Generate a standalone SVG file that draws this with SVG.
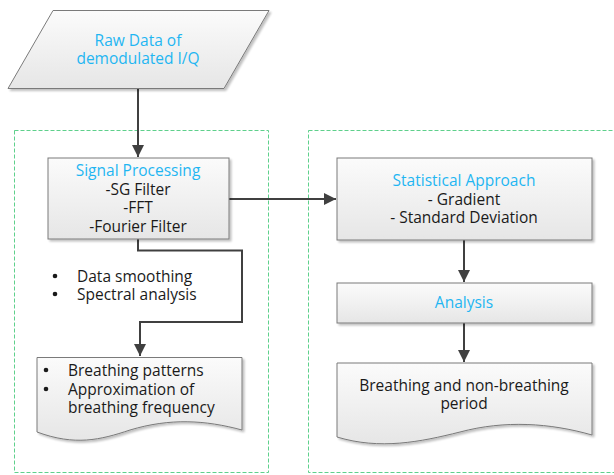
<svg xmlns="http://www.w3.org/2000/svg" width="614" height="475" viewBox="0 0 614 475">
<defs>
<linearGradient id="g" x1="0" y1="0" x2="0" y2="1">
<stop offset="0" stop-color="#fbfbfb"/>
<stop offset="1" stop-color="#e6e6e6"/>
</linearGradient>
<filter id="sh" x="-5%" y="-5%" width="115%" height="120%">
<feGaussianBlur in="SourceAlpha" stdDeviation="1.2"/>
<feOffset dx="2" dy="2"/>
<feComponentTransfer><feFuncA type="linear" slope="0.25"/></feComponentTransfer>
<feMerge><feMergeNode/><feMergeNode in="SourceGraphic"/></feMerge>
</filter>
<marker id="ar" markerWidth="12" markerHeight="14" refX="10" refY="5" orient="auto" markerUnits="userSpaceOnUse" viewBox="0 0 10 10">
<path d="M0,0 L10,5 L0,10 Z" fill="#404040"/>
</marker>
</defs>
<style>
.shape{fill:url(#g);stroke:#7a7a7a;stroke-width:1;filter:url(#sh)}
.cont{fill:none;stroke:#5fd08c;stroke-width:1;stroke-dasharray:4,2}
.conn{fill:none;stroke:#404040;stroke-width:2;marker-end:url(#ar)}
text{font-family:"Open Sans","Noto Sans","DejaVu Sans",sans-serif;font-size:15.5px;fill:#1a1a1a}
.t{fill:#1fb6f2}
.c{text-anchor:middle}
</style>
<g id="containers">
<rect class="cont" x="14.5" y="130.5" width="254" height="342"/>
<rect class="cont" x="308.5" y="130.5" width="310" height="342"/>
</g>
<g id="connectors">
<path class="conn" d="M138,88 V157"/>
<path class="conn" d="M229,199 H336"/>
<path class="conn" d="M464,240 V282"/>
<path class="conn" d="M464,323 V362"/>
<path class="conn" d="M138,239 V250.5 H242 V322 H140 V356"/>
</g>
<g id="raw">
<path class="shape" d="M53,10.5 H269 L224,88.5 H8 Z"/>
<text class="t c" x="138" y="46">Raw Data of</text>
<text class="t c" x="138" y="64">demodulated I/Q</text>
</g>
<g id="signal">
<rect class="shape" x="48" y="158" width="181" height="81"/>
<text class="t c" x="138" y="176">Signal Processing</text>
<text class="c" x="138" y="195">-SG Filter</text>
<text class="c" x="138" y="213">-FFT</text>
<text class="c" x="138" y="232">-Fourier Filter</text>
</g>
<g id="bullets">
<circle cx="55" cy="276" r="2.3" fill="#1a1a1a"/>
<circle cx="55" cy="294" r="2.3" fill="#1a1a1a"/>
<text x="77" y="281.5">Data smoothing</text>
<text x="77" y="299.5">Spectral analysis</text>
</g>
<g id="breathdoc">
<path class="shape" d="M37,357.5 H242 V430 C205,420 170,418 130,430 C100,440 75,446 37,432 Z"/>
<circle cx="46" cy="370" r="2.3" fill="#1a1a1a"/>
<circle cx="46" cy="389" r="2.3" fill="#1a1a1a"/>
<text x="68" y="375.5">Breathing patterns</text>
<text x="68" y="394.5">Approximation of</text>
<text x="68" y="412.5">breathing frequency</text>
</g>
<g id="statistical">
<rect class="shape" x="337" y="158" width="255" height="82"/>
<text class="t c" x="464" y="185.5">Statistical Approach</text>
<text class="c" x="464" y="204.5">- Gradient</text>
<text class="c" x="464" y="222.5">- Standard Deviation</text>
</g>
<g id="analysis">
<rect class="shape" x="337" y="283" width="255" height="40"/>
<text class="t c" x="464" y="307.5">Analysis</text>
</g>
<g id="perioddoc">
<path class="shape" d="M337,363 H592 V435 C550,423 505,420 460,432 C420,442 380,450 337,437 Z"/>
<text class="c" x="464" y="390.5">Breathing and non-breathing</text>
<text class="c" x="464" y="408.5">period</text>
</g>
</svg>
